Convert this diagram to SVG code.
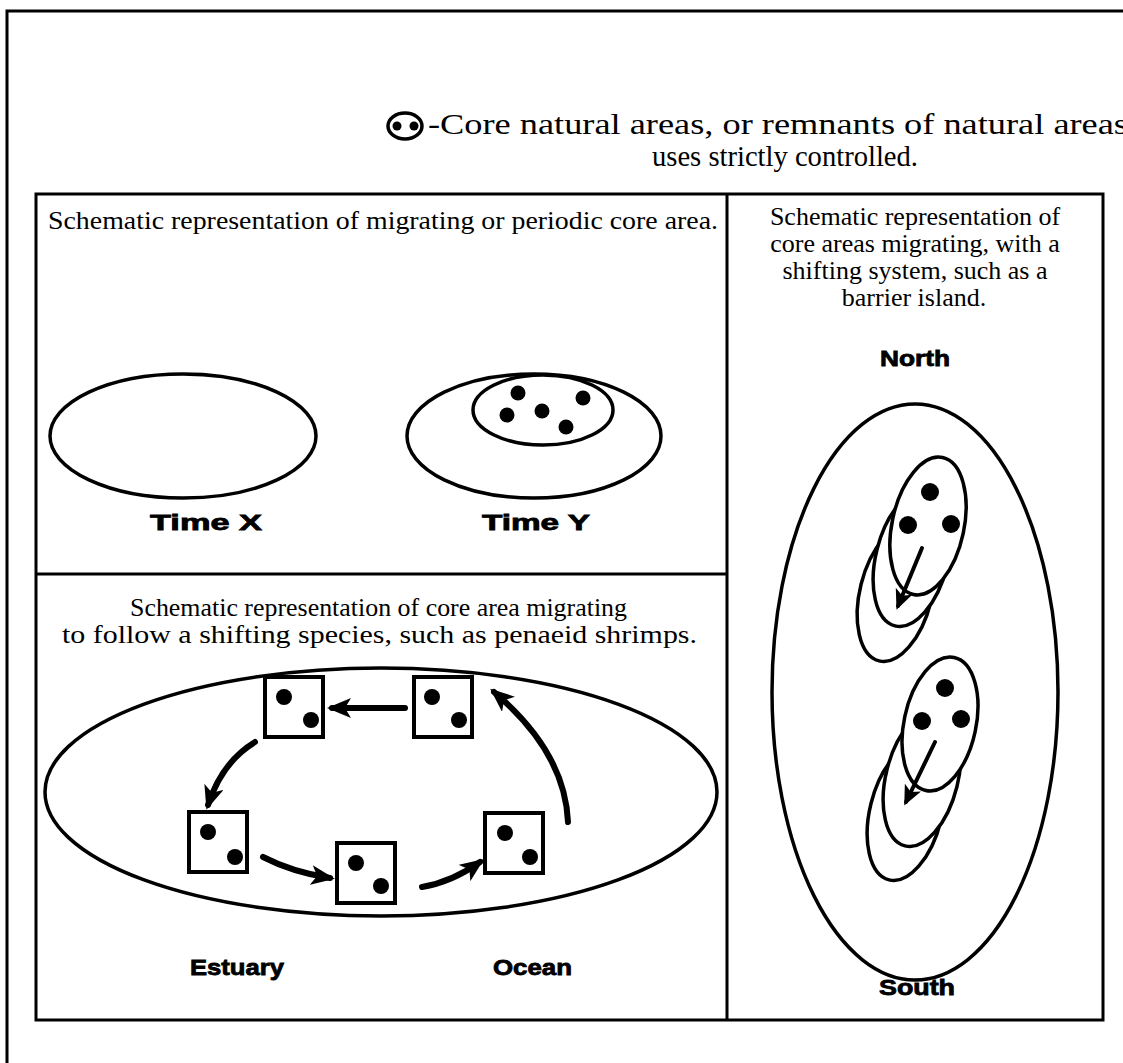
<svg xmlns="http://www.w3.org/2000/svg" width="1123" height="1063" viewBox="0 0 1123 1063">
<style>
.ln{stroke:#000;stroke-width:3;fill:none}
.el{stroke:#000;stroke-width:3.5;fill:none}
.elw{stroke:#000;stroke-width:3.5;fill:#fff}
.dot{fill:#000}
.sq{stroke:#000;stroke-width:4;fill:#fff}
.ser{font-family:"Liberation Serif","Times New Roman",serif;fill:#000}
.bld{font-family:"Liberation Sans",Arial,sans-serif;font-weight:bold;fill:#000;stroke:#000;stroke-width:0.8}
.arr{stroke:#000;stroke-width:6;fill:none;stroke-linecap:round}
.arrs{stroke:#000;stroke-width:4;fill:none;stroke-linecap:round}
</style>
<defs>
<marker id="ah" viewBox="0 0 24 20" refX="19" refY="10" markerWidth="24" markerHeight="20" markerUnits="userSpaceOnUse" orient="auto">
<path d="M0,0 L24,10 L0,20 L6,10 z" fill="#000"/>
</marker>
<marker id="ahs" viewBox="0 0 20 18" refX="16" refY="9" markerWidth="20" markerHeight="18" markerUnits="userSpaceOnUse" orient="auto">
<path d="M0,0 L20,9 L0,18 L5,9 z" fill="#000"/>
</marker>
</defs>
<rect width="1123" height="1063" fill="#fff"/>

<g id="frame">
<path class="ln" d="M7 1063 V11 H1123"/>
<rect class="ln" x="36" y="194" width="1067" height="826"/>
<line class="ln" x1="727" y1="194" x2="727" y2="1020"/>
<line class="ln" x1="36" y1="574" x2="727" y2="574"/>
</g>

<g id="legend">
<ellipse class="el" cx="405" cy="126" rx="17" ry="13" stroke-width="4.5"/>
<circle class="dot" cx="397" cy="126" r="4.5"/>
<circle class="dot" cx="414" cy="126" r="4.5"/>
<text class="ser" x="428" y="134" font-size="30" textLength="700" lengthAdjust="spacingAndGlyphs">-Core natural areas, or remnants of natural areas</text>
<text class="ser" x="652" y="166" font-size="30" textLength="266" lengthAdjust="spacingAndGlyphs">uses strictly controlled.</text>
</g>

<g id="panel-periodic">
<text class="ser" x="48" y="229" font-size="26" textLength="670" lengthAdjust="spacingAndGlyphs">Schematic representation of migrating or periodic core area.</text>
<g id="time-x">
<ellipse class="el" cx="183" cy="436" rx="133" ry="62"/>
<text class="bld" x="150" y="530" font-size="22" textLength="112" lengthAdjust="spacingAndGlyphs">Time X</text>
</g>
<g id="time-y">
<ellipse class="el" cx="534" cy="436" rx="127" ry="62"/>
<ellipse class="el" cx="543" cy="410" rx="70" ry="35"/>
<circle class="dot" cx="518" cy="393" r="7.5"/>
<circle class="dot" cx="583" cy="398" r="7.5"/>
<circle class="dot" cx="507" cy="415" r="7.5"/>
<circle class="dot" cx="542" cy="411" r="7.5"/>
<circle class="dot" cx="566" cy="427" r="7.5"/>
<text class="bld" x="482" y="530" font-size="22" textLength="108" lengthAdjust="spacingAndGlyphs">Time Y</text>
</g>
</g>

<g id="panel-species">
<text class="ser" x="130" y="616" font-size="26" textLength="497" lengthAdjust="spacingAndGlyphs">Schematic representation of core area migrating</text>
<text class="ser" x="62" y="643" font-size="26" textLength="635" lengthAdjust="spacingAndGlyphs">to follow a shifting species, such as penaeid shrimps.</text>
<ellipse class="el" cx="381" cy="792" rx="336" ry="124"/>
<g id="sq1"><rect class="sq" x="265" y="677" width="58" height="60"/><circle class="dot" cx="284" cy="697" r="8"/><circle class="dot" cx="311" cy="720" r="8"/></g>
<g id="sq2"><rect class="sq" x="414" y="677" width="58" height="60"/><circle class="dot" cx="432" cy="697" r="8"/><circle class="dot" cx="459" cy="720" r="8"/></g>
<g id="sq3"><rect class="sq" x="189" y="812" width="58" height="60"/><circle class="dot" cx="208" cy="832" r="8"/><circle class="dot" cx="235" cy="857" r="8"/></g>
<g id="sq4"><rect class="sq" x="337" y="843" width="58" height="60"/><circle class="dot" cx="356" cy="863" r="8"/><circle class="dot" cx="381" cy="886" r="8"/></g>
<g id="sq5"><rect class="sq" x="485" y="813" width="58" height="60"/><circle class="dot" cx="505" cy="833" r="8"/><circle class="dot" cx="530" cy="857" r="8"/></g>
<text class="bld" x="190" y="975" font-size="22" textLength="94" lengthAdjust="spacingAndGlyphs">Estuary</text>
<text class="bld" x="493" y="975" font-size="22" textLength="79" lengthAdjust="spacingAndGlyphs">Ocean</text>
</g>

<g id="panel-barrier">
<text class="ser" x="915" y="225" font-size="26" text-anchor="middle">Schematic representation of</text>
<text class="ser" x="915" y="252" font-size="26" text-anchor="middle">core areas migrating, with a</text>
<text class="ser" x="915" y="279" font-size="26" text-anchor="middle">shifting system, such as a</text>
<text class="ser" x="914" y="306" font-size="26" text-anchor="middle">barrier island.</text>
<text class="bld" x="915" y="366" font-size="22" text-anchor="middle" textLength="70" lengthAdjust="spacingAndGlyphs">North</text>
<text class="bld" x="917" y="995" font-size="22" text-anchor="middle" textLength="76" lengthAdjust="spacingAndGlyphs">South</text>
<ellipse class="el" cx="915" cy="692" rx="143" ry="288"/>
<g id="north">
<ellipse class="elw" cx="896" cy="593" rx="36" ry="70" transform="rotate(14 896 593)"/>
<ellipse class="elw" cx="912" cy="558" rx="36" ry="70" transform="rotate(14 912 558)"/>
<ellipse class="elw" cx="928" cy="526" rx="36" ry="70" transform="rotate(12 928 526)"/>
<circle class="dot" cx="930" cy="492" r="9"/>
<circle class="dot" cx="908" cy="525" r="9"/>
<circle class="dot" cx="951" cy="524" r="9"/>
</g>
<g id="south">
<ellipse class="elw" cx="906" cy="812" rx="36" ry="70" transform="rotate(14 906 812)"/>
<ellipse class="elw" cx="922" cy="778" rx="36" ry="70" transform="rotate(14 922 778)"/>
<ellipse class="elw" cx="940" cy="724" rx="36" ry="68" transform="rotate(12 940 724)"/>
<circle class="dot" cx="945" cy="688" r="9"/>
<circle class="dot" cx="922" cy="721" r="9"/>
<circle class="dot" cx="961" cy="719" r="9"/>
</g>
</g>

<g id="connectors">
<path class="arr" d="M405 708 L332 708" marker-end="url(#ah)"/>
<path class="arr" d="M255 742 Q222 762 208 805" marker-end="url(#ah)"/>
<path class="arr" d="M263 857 Q292 872 330 878" marker-end="url(#ah)"/>
<path class="arr" d="M422 887 Q452 882 480 862" marker-end="url(#ah)"/>
<path class="arr" d="M568 822 Q565 752 494 692" marker-end="url(#ah)"/>
<path class="arrs" d="M922 548 L898 606" marker-end="url(#ahs)"/>
<path class="arrs" d="M935 742 L906 802" marker-end="url(#ahs)"/>
</g>
</svg>
